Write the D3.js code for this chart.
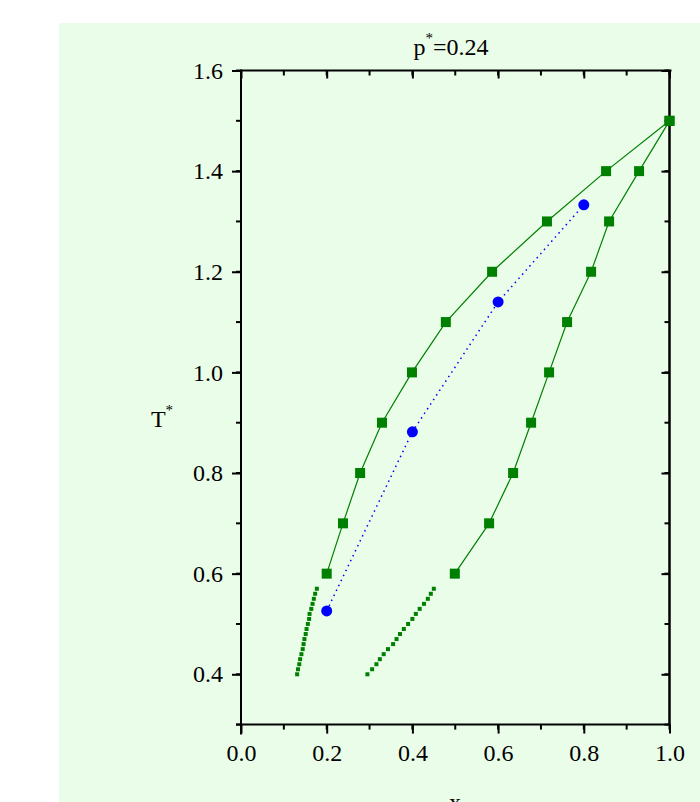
<!DOCTYPE html>
<html>
<head>
<meta charset="utf-8">
<script src="https://cdn.jsdelivr.net/npm/d3@7"></script>
<style>
  body { margin: 0; background: #fff; }
  svg { display: block; font-family: "Liberation Serif", "Times New Roman", serif; }
</style>
</head>
<body>
<svg id="chart" width="700" height="802"></svg>
<script>
// Coexistence curve data, p* = 0.24
const upperT = [0.6, 0.7, 0.8, 0.9, 1.0, 1.1, 1.2, 1.3, 1.4, 1.5];
const leftX = [0.200, 0.238, 0.278, 0.329, 0.399, 0.478, 0.586, 0.714, 0.852, 1.0];
const rightX = [0.499, 0.579, 0.635, 0.677, 0.719, 0.761, 0.817, 0.859, 0.929, 1.0];

const blueX = [0.2, 0.4, 0.6, 0.8];
const blueT = [0.526, 0.882, 1.140, 1.333];

const smallT = [0.40, 0.41, 0.42, 0.43, 0.44, 0.45, 0.46, 0.47, 0.48, 0.49, 0.50, 0.51, 0.52, 0.53, 0.54, 0.55, 0.56, 0.57];
const smallLeftX = [0.131, 0.133, 0.136, 0.138, 0.141, 0.144, 0.146, 0.148, 0.151, 0.153, 0.156, 0.159, 0.160, 0.164, 0.167, 0.170, 0.173, 0.177];
const smallRightX = [0.295, 0.306, 0.316, 0.324, 0.333, 0.343, 0.355, 0.363, 0.371, 0.380, 0.390, 0.400, 0.408, 0.417, 0.427, 0.436, 0.443, 0.450];

const xTicks = [0.0, 0.2, 0.4, 0.6, 0.8, 1.0];
const yTicks = [0.4, 0.6, 0.8, 1.0, 1.2, 1.4, 1.6];

const svg = d3.select("#chart");
const green = "#008000";
const blue = "#0000ff";
const serif = "Liberation Serif";

// light green panel
svg.append("rect")
  .attr("x", 59).attr("y", 23)
  .attr("width", 641).attr("height", 779)
  .attr("fill", "#eafde9");

const x = d3.scaleLinear().domain([0, 1]).range([241, 669.5]);
const y = d3.scaleLinear().domain([0.3, 1.6]).range([724.6, 70.5]);

const minorX = d3.range(0, 1.001, 0.1);
const minorY = d3.range(0.3, 1.601, 0.1);

// axes
const gBottom = svg.append("g").attr("transform", `translate(0,${y(0.3)})`)
  .call(d3.axisBottom(x).tickValues(xTicks).tickFormat(d3.format(".1f")).tickSize(9).tickPadding(10));
gBottom.select(".domain").attr("stroke-width", 2).attr("d", `M${x(0) - 5},0H${x(1) + 1}`);
gBottom.selectAll(".tick line").attr("stroke-width", 2);
gBottom.selectAll("text").attr("font-size", 24).attr("font-family", serif);
gBottom.append("g").selectAll("line").data(minorX).join("line")
  .attr("x1", d => x(d)).attr("x2", d => x(d)).attr("y1", 0).attr("y2", 5)
  .attr("stroke", "#000").attr("stroke-width", 2);

const gLeft = svg.append("g").attr("transform", `translate(${x(0)},0)`)
  .call(d3.axisLeft(y).tickValues(yTicks).tickFormat(d3.format(".1f")).tickSize(9).tickPadding(9));
gLeft.select(".domain").attr("stroke-width", 2).attr("d", `M0,${y(1.6) - 1}V${y(0.3) + 10}`);
gLeft.selectAll(".tick line").attr("stroke-width", 2);
gLeft.selectAll("text").attr("font-size", 24).attr("font-family", serif);
gLeft.append("g").selectAll("line").data(minorY).join("line")
  .attr("y1", d => y(d)).attr("y2", d => y(d)).attr("x1", 0).attr("x2", -5)
  .attr("stroke", "#000").attr("stroke-width", 2);

const gTop = svg.append("g").attr("transform", `translate(0,${y(1.6)})`)
  .call(d3.axisBottom(x).tickValues(xTicks).tickFormat("").tickSize(8));
gTop.select(".domain").attr("stroke-width", 2).attr("d", `M${x(0)},0H${x(1) + 2}`);
gTop.selectAll(".tick line").attr("stroke-width", 2);
gTop.append("g").selectAll("line").data(minorX).join("line")
  .attr("x1", d => x(d)).attr("x2", d => x(d)).attr("y1", 0).attr("y2", 5)
  .attr("stroke", "#000").attr("stroke-width", 2);

const gRight = svg.append("g").attr("transform", `translate(${x(1)},0)`)
  .call(d3.axisRight(y).tickValues(yTicks).tickFormat("").tickSize(-8));
gRight.select(".domain").attr("stroke-width", 2.5).attr("d", `M0,${y(1.6)}V${y(0.3)}`);
gRight.selectAll(".tick line").attr("stroke-width", 2);
gRight.append("g").selectAll("line").data(minorY).join("line")
  .attr("y1", d => y(d)).attr("y2", d => y(d)).attr("x1", 0).attr("x2", -5)
  .attr("stroke", "#000").attr("stroke-width", 2);

// series lines
const line = d3.line().x(d => x(d[0])).y(d => y(d[1]));
const leftPts = leftX.map((v, i) => [v, upperT[i]]);
const rightPts = rightX.map((v, i) => [v, upperT[i]]);
const bluePts = blueX.map((v, i) => [v, blueT[i]]);

svg.append("path").datum(leftPts).attr("d", line)
  .attr("fill", "none").attr("stroke", green).attr("stroke-width", 1.2);
svg.append("path").datum(rightPts).attr("d", line)
  .attr("fill", "none").attr("stroke", green).attr("stroke-width", 1.2);
svg.append("path").datum(bluePts).attr("d", line)
  .attr("fill", "none").attr("stroke", blue).attr("stroke-width", 1.5)
  .attr("stroke-dasharray", "1.5,4");

// big squares
svg.append("g").selectAll("rect").data(leftPts.concat(rightPts)).join("rect")
  .attr("x", d => x(d[0]) - 5).attr("y", d => y(d[1]) - 5)
  .attr("width", 10).attr("height", 10).attr("fill", green);

// small squares
const smallPts = smallLeftX.map((v, i) => [v, smallT[i]])
  .concat(smallRightX.map((v, i) => [v, smallT[i]]));
svg.append("g").selectAll("rect").data(smallPts).join("rect")
  .attr("x", d => x(d[0]) - 2).attr("y", d => y(d[1]) - 2)
  .attr("width", 4).attr("height", 4).attr("fill", green);

// blue circles
svg.append("g").selectAll("circle").data(bluePts).join("circle")
  .attr("cx", d => x(d[0])).attr("cy", d => y(d[1])).attr("r", 5.5)
  .attr("fill", blue);

// title and labels
const title = svg.append("text").attr("x", 451).attr("y", 55)
  .attr("text-anchor", "middle").attr("font-size", 24).attr("font-family", serif);
title.append("tspan").text("p");
title.append("tspan").attr("dy", -12).attr("font-size", 15).text("*");
title.append("tspan").attr("dy", 12).text("=0.24");

const ylab = svg.append("text").attr("x", 162).attr("y", 427)
  .attr("text-anchor", "middle").attr("font-size", 24).attr("font-family", serif);
ylab.append("tspan").text("T");
ylab.append("tspan").attr("dy", -12).attr("font-size", 15).text("*");

svg.append("text").attr("x", 455).attr("y", 810)
  .attr("text-anchor", "middle").attr("font-size", 24).attr("font-family", serif).text("x");
</script>
</body>
</html>
